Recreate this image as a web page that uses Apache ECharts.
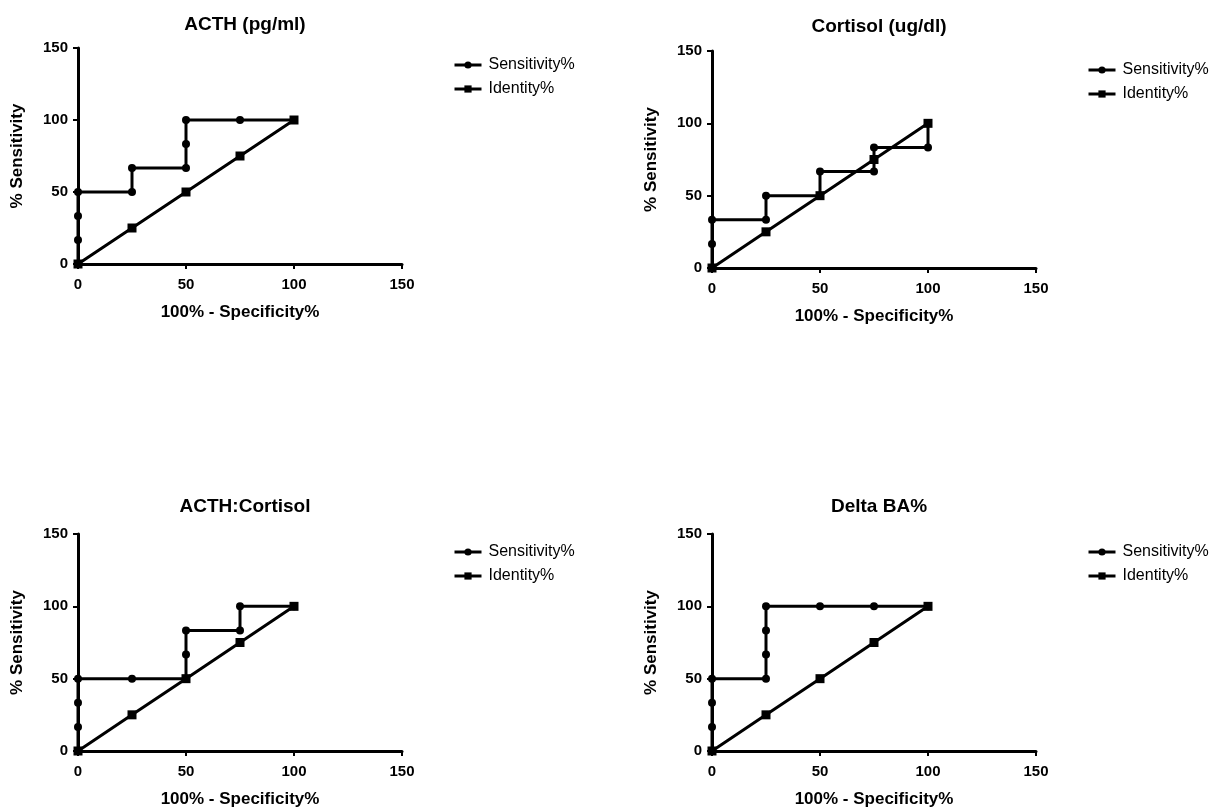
<!DOCTYPE html>
<html>
<head>
<meta charset="utf-8">
<script src="https://cdn.jsdelivr.net/npm/echarts@6/dist/echarts.min.js"></script>
<style>html,body{margin:0;padding:0;background:#fff;}#c{width:1225px;height:812px;}</style>
</head>
<body>
<div id="c"></div>
<script>
const titles = ['ACTH (pg/ml)', 'Cortisol (ug/dl)', 'ACTH:Cortisol', 'Delta BA%'];
const seriesNames = ['Sensitivity%', 'Identity%'];
const axisTicks = [0, 50, 100, 150];
const xAxisName = '100% - Specificity%';
const yAxisName = '% Sensitivity';

const acthSens = [[0,0],[0,16.67],[0,33.33],[0,50],[25,50],[25,66.67],[50,66.67],[50,83.33],[50,100],[75,100],[100,100]];
const cortisolSens = [[0,0],[0,16.67],[0,33.33],[25,33.33],[25,50],[50,50],[50,66.67],[75,66.67],[75,83.33],[100,83.33],[100,100]];
const ratioSens = [[0,0],[0,16.67],[0,33.33],[0,50],[25,50],[50,50],[50,66.67],[50,83.33],[75,83.33],[75,100],[100,100]];
const deltaBASens = [[0,0],[0,16.67],[0,33.33],[0,50],[25,50],[25,66.67],[25,83.33],[25,100],[50,100],[75,100],[100,100]];
const identityLine = [[0,0],[25,25],[50,50],[75,75],[100,100]];

const sensData = [acthSens, cortisolSens, ratioSens, deltaBASens];

// layout
const grids = [
  {left: 78, top: 48, width: 324, height: 216},
  {left: 712, top: 51, width: 324, height: 217},
  {left: 78, top: 534, width: 324, height: 217},
  {left: 712, top: 534, width: 324, height: 217}
];
const titleTops = [10, 12, 492, 492];
const legendPos = [{left: 448, top: 52}, {left: 1082, top: 57}, {left: 448, top: 539}, {left: 1082, top: 539}];

const FONT = "'Liberation Sans', Arial, sans-serif";

const option = {
  backgroundColor: '#fff',
  animation: false,
  title: [], grid: [], xAxis: [], yAxis: [], legend: [], series: []
};

grids.forEach((g, i) => {
  option.grid.push(Object.assign({containLabel: false}, g));
  option.title.push({
    text: titles[i],
    left: g.left + g.width / 2,
    textAlign: 'center',
    top: titleTops[i],
    textStyle: {fontFamily: FONT, fontWeight: 'bold', fontSize: 19, color: '#000'}
  });
  const axisCommon = {
    type: 'value', min: axisTicks[0], max: axisTicks[axisTicks.length - 1],
    interval: axisTicks[1] - axisTicks[0],
    gridIndex: i,
    splitLine: {show: false},
    axisLine: {show: true, onZero: false, lineStyle: {color: '#000', width: 3}},
    axisTick: {show: true, length: 5, lineStyle: {color: '#000', width: 2}},
    axisLabel: {fontFamily: FONT, fontWeight: 'bold', fontSize: 15, color: '#000'},
    nameLocation: 'middle',
    nameTextStyle: {fontFamily: FONT, fontWeight: 'bold', fontSize: 17, color: '#000'}
  };
  option.xAxis.push(Object.assign({}, axisCommon, {name: xAxisName, nameGap: 40,
    axisLabel: Object.assign({}, axisCommon.axisLabel, {margin: 13})}));
  option.yAxis.push(Object.assign({}, axisCommon, {name: yAxisName, nameGap: 52,
    axisLabel: Object.assign({}, axisCommon.axisLabel, {margin: 10})}));
  option.legend.push({
    orient: 'vertical',
    left: legendPos[i].left, top: legendPos[i].top,
    itemWidth: 27, itemHeight: 9, itemGap: 8,
    data: seriesNames,
    lineStyle: {width: 3, color: '#000'},
    textStyle: {fontFamily: FONT, fontSize: 16, color: '#000', padding: [0, 0, 0, 2]},
    selectedMode: false
  });
  option.series.push({
    name: seriesNames[0], type: 'line', xAxisIndex: i, yAxisIndex: i,
    data: sensData[i], symbol: 'circle', symbolSize: 8, clip: false,
    lineStyle: {color: '#000', width: 3}, itemStyle: {color: '#000'}, z: 2
  });
  option.series.push({
    name: seriesNames[1], type: 'line', xAxisIndex: i, yAxisIndex: i,
    data: identityLine, symbol: 'rect', symbolSize: 9, clip: false,
    lineStyle: {color: '#000', width: 3}, itemStyle: {color: '#000'}, z: 3
  });
});

const chart = echarts.init(document.getElementById('c'), null, {renderer: 'canvas'});
chart.setOption(option);
</script>
</body>
</html>
